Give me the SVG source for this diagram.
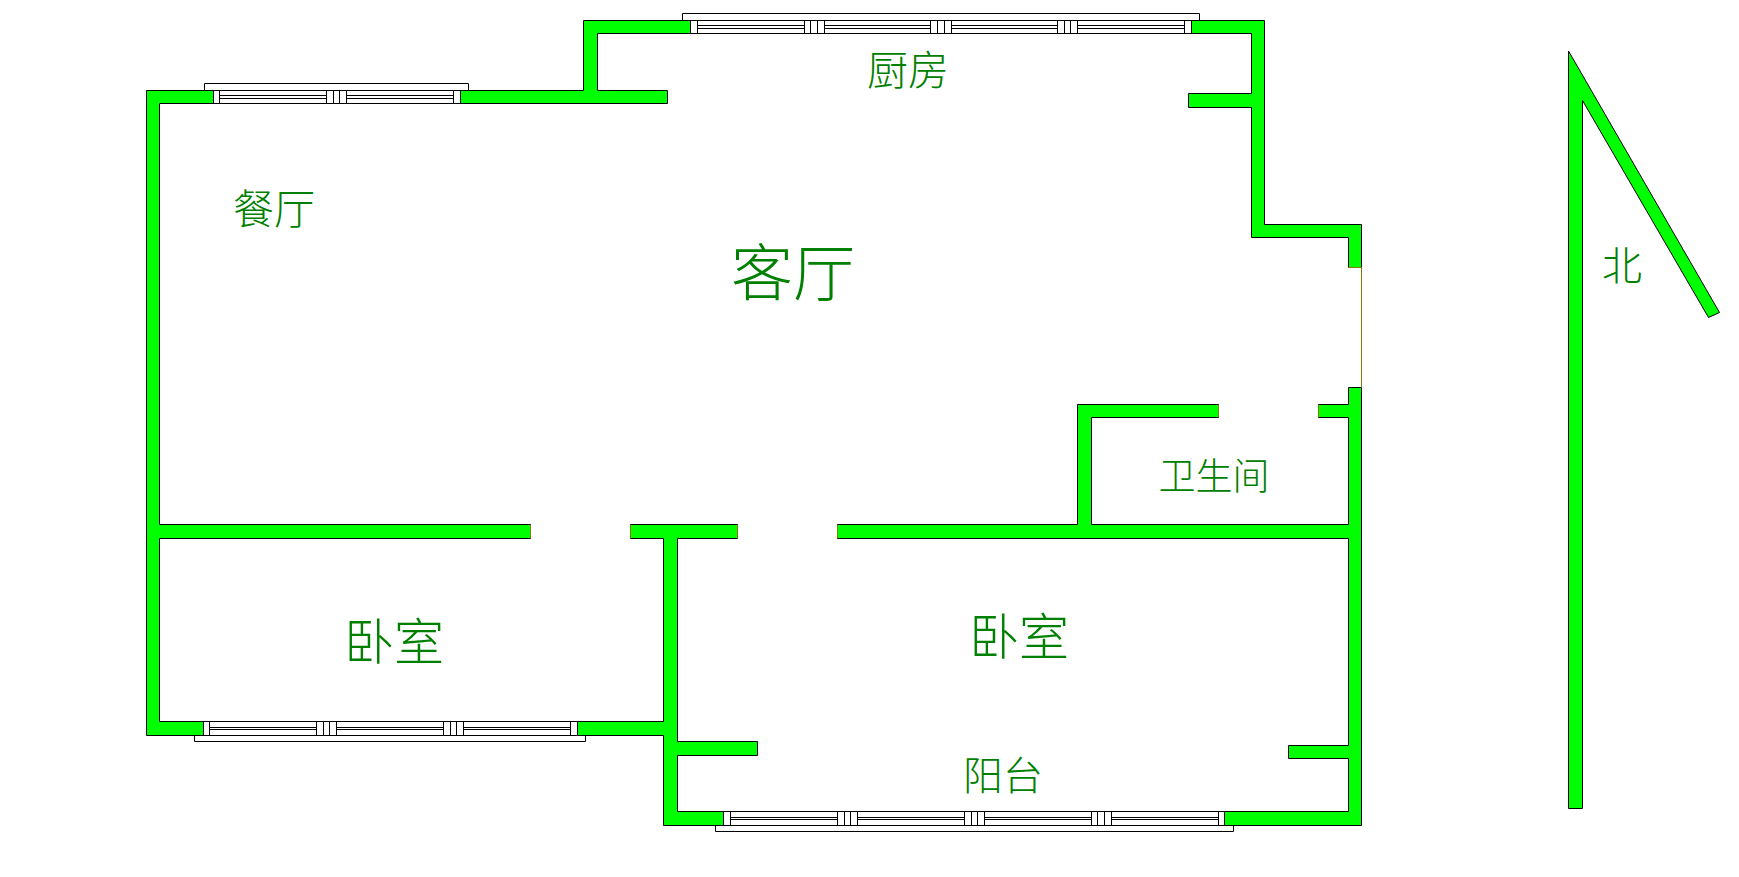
<svg xmlns="http://www.w3.org/2000/svg" width="1739" height="877" viewBox="0 0 1739 877">
<style>
.wall{fill:#00ff00;stroke:#000;stroke-width:1}
.jamb{fill:none;stroke:#808000;stroke-width:1}
.rail{fill:none;stroke:#000;stroke-width:1}
.frame{fill:#fff;stroke:#000;stroke-width:1}
text{font-family:"Noto Sans CJK SC","Noto Sans CJK JP",sans-serif;font-weight:300;fill:#008000;text-anchor:middle}
</style>
<rect width="1739" height="877" fill="#fff"/>
<g id="walls">
<path class="wall" d="M213.5 90.5H146.5V735.5H203.5V721.5H159.5V538.5H530.5V524.5H159.5V103.5H213.5Z"/>
<path class="wall" d="M460.5 90.5H583.5V20.5H690.5V33.5H597.5V90.5H667.5V103.5H460.5Z"/>
<path class="wall" d="M1191.5 20.5H1264.5V224.5H1361.5V267.5H1348.5V237.5H1251.5V107.5H1188.5V93.5H1251.5V33.5H1191.5Z"/>
<path class="wall" d="M630.5 524.5H737.5V538.5H677.5V741.5H757.5V755.5H677.5V811.5H723.5V825.5H663.5V735.5H577.5V721.5H663.5V538.5H630.5Z"/>
<path class="wall" d="M837.5 524.5H1077.5V404.5H1218.5V417.5H1091.5V524.5H1348.5V417.5H1318.5V404.5H1348.5V387.5H1361.5V825.5H1224.5V811.5H1348.5V758.5H1288.5V745.5H1348.5V538.5H837.5Z"/>
<path class="jamb" d="M530.5 525V538M630.5 525V538M737.5 525V538M837.5 525V538M1218.5 405V417M1318.5 405V417M1348.5 267.5H1361.5V387"/>
</g>
<g id="window-dining">
<path class="rail" d="M204.5 90.5V83.5H468.5V90.5"/>
<rect class="frame" x="213.5" y="90.5" width="247" height="13"/>
<path class="rail" d="M213.5 95.5H460.5M213.5 98.5H460.5"/>
<rect class="frame" x="213.5" y="90.5" width="6" height="13"/>
<rect class="frame" x="326.5" y="90.5" width="7" height="13"/>
<rect class="frame" x="333.5" y="90.5" width="6" height="13"/>
<rect class="frame" x="339.5" y="90.5" width="7" height="13"/>
<rect class="frame" x="453.5" y="90.5" width="7" height="13"/>
</g>
<g id="window-kitchen">
<path class="rail" d="M682.5 20.5V13.5H1199.5V20.5"/>
<rect class="frame" x="690.5" y="20.5" width="501" height="13"/>
<path class="rail" d="M690.5 25.5H1191.5M690.5 28.5H1191.5"/>
<rect class="frame" x="690.5" y="20.5" width="7" height="13"/>
<rect class="frame" x="804.5" y="20.5" width="6" height="13"/>
<rect class="frame" x="810.5" y="20.5" width="7" height="13"/>
<rect class="frame" x="817.5" y="20.5" width="7" height="13"/>
<rect class="frame" x="930.5" y="20.5" width="7" height="13"/>
<rect class="frame" x="937.5" y="20.5" width="7" height="13"/>
<rect class="frame" x="944.5" y="20.5" width="7" height="13"/>
<rect class="frame" x="1057.5" y="20.5" width="7" height="13"/>
<rect class="frame" x="1064.5" y="20.5" width="6" height="13"/>
<rect class="frame" x="1070.5" y="20.5" width="7" height="13"/>
<rect class="frame" x="1184.5" y="20.5" width="7" height="13"/>
</g>
<g id="window-bedroom">
<path class="rail" d="M194.5 735.5V741.5H585.5V735.5"/>
<rect class="frame" x="203.5" y="721.5" width="374" height="14"/>
<path class="rail" d="M203.5 727.5H577.5M203.5 729.5H577.5"/>
<rect class="frame" x="203.5" y="721.5" width="6" height="14"/>
<rect class="frame" x="316.5" y="721.5" width="7" height="14"/>
<rect class="frame" x="323.5" y="721.5" width="6" height="14"/>
<rect class="frame" x="329.5" y="721.5" width="7" height="14"/>
<rect class="frame" x="443.5" y="721.5" width="7" height="14"/>
<rect class="frame" x="450.5" y="721.5" width="6" height="14"/>
<rect class="frame" x="456.5" y="721.5" width="7" height="14"/>
<rect class="frame" x="570.5" y="721.5" width="7" height="14"/>
</g>
<g id="window-balcony">
<path class="rail" d="M715.5 825.5V831.5H1233.5V825.5"/>
<rect class="frame" x="723.5" y="811.5" width="501" height="14"/>
<path class="rail" d="M723.5 817.5H1224.5M723.5 819.5H1224.5"/>
<rect class="frame" x="723.5" y="811.5" width="7" height="14"/>
<rect class="frame" x="837.5" y="811.5" width="7" height="14"/>
<rect class="frame" x="844.5" y="811.5" width="6" height="14"/>
<rect class="frame" x="850.5" y="811.5" width="7" height="14"/>
<rect class="frame" x="964.5" y="811.5" width="7" height="14"/>
<rect class="frame" x="971.5" y="811.5" width="6" height="14"/>
<rect class="frame" x="977.5" y="811.5" width="7" height="14"/>
<rect class="frame" x="1091.5" y="811.5" width="6" height="14"/>
<rect class="frame" x="1097.5" y="811.5" width="7" height="14"/>
<rect class="frame" x="1104.5" y="811.5" width="7" height="14"/>
<rect class="frame" x="1218.5" y="811.5" width="6" height="14"/>
</g>
<g id="north-arrow">
<path class="wall" d="M1568.5 51L1719.5 312.5L1708.5 317.5L1582.5 100.5V808.5H1568.5Z"/>
<text x="1622" y="280" font-size="40">北</text>
</g>
<g id="labels">
<text x="274" y="224" font-size="41">餐厅</text>
<text x="908" y="85" font-size="41">厨房</text>
<text x="793" y="296" font-size="62">客厅</text>
<text x="1214" y="490" font-size="37">卫生间</text>
<text x="394" y="660" font-size="50">卧室</text>
<text x="1019" y="655" font-size="50">卧室</text>
<text x="1003" y="790" font-size="40">阳台</text>
</g>
</svg>
